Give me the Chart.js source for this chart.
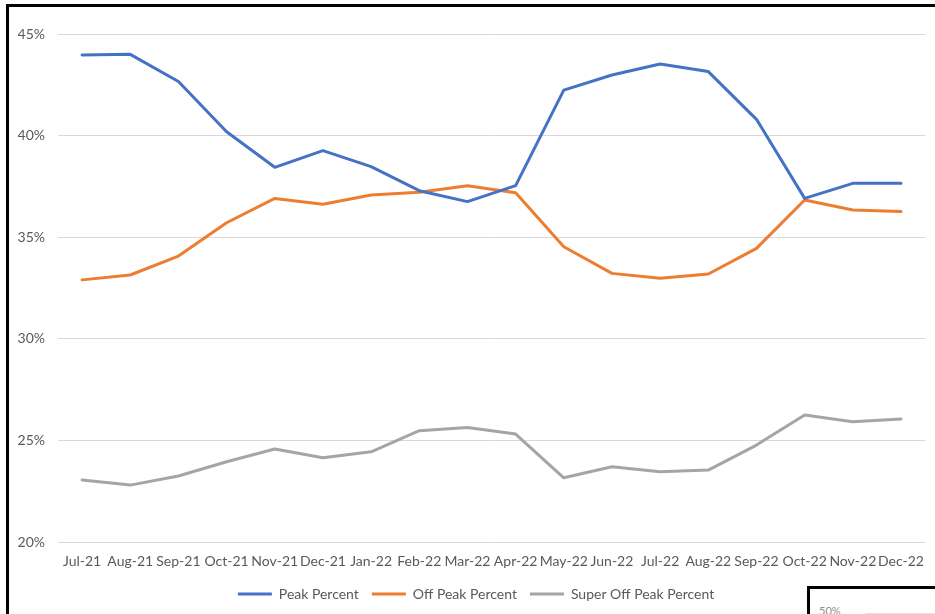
<!DOCTYPE html>
<html>
<head>
<meta charset="utf-8">
<script src="https://cdn.jsdelivr.net/npm/chart.js@4.4.1/dist/chart.umd.min.js"></script>
<style>
  html, body { margin: 0; padding: 0; background: #fff; }
  #wrap { position: relative; width: 935px; height: 614px; overflow: hidden; }
  #frame {
    position: absolute; left: 6px; top: 4px; width: 1000px; height: 700px;
    border-left: 3px solid #000; border-top: 3px solid #000; pointer-events: none;
  }
  #inset {
    position: absolute; left: 807px; top: 586px; width: 200px; height: 100px;
    border-left: 3px solid #000; border-top: 3px solid #000; background: #fff;
  }
  #inset span {
    position: absolute; left: 9px; top: 15px; font: 11px Lato, sans-serif; color: #8c8c8c;
  }
  #inset i {
    position: absolute; left: 55px; top: 24px; width: 200px; height: 1px; background: #e3e3e3;
  }
</style>
</head>
<body>
<div id="wrap">
  <canvas id="lineChart" width="935" height="614"></canvas>
  <div id="frame"></div>
  <div id="inset"><span>50%</span><i></i></div>
</div>
<script>
// month labels on the x axis
const months = ["Jul-21", "Aug-21", "Sep-21", "Oct-21", "Nov-21", "Dec-21", "Jan-22", "Feb-22", "Mar-22",
  "Apr-22", "May-22", "Jun-22", "Jul-22", "Aug-22", "Sep-22", "Oct-22", "Nov-22", "Dec-22"];

// values (percent)
const peakPercent = [43.97, 44.0, 42.66, 40.19, 38.44, 39.26, 38.47, 37.29, 36.75,
  37.54, 42.24, 42.98, 43.52, 43.15, 40.8, 36.91, 37.65, 37.65];
const offPeakPercent = [32.9, 33.14, 34.07, 35.71, 36.91, 36.62, 37.08, 37.21, 37.53,
  37.19, 34.53, 33.22, 32.98, 33.19, 34.45, 36.83, 36.34, 36.26];
const superOffPeakPercent = [23.05, 22.8, 23.25, 23.95, 24.58, 24.15, 24.44, 25.48, 25.63,
  25.31, 23.16, 23.7, 23.46, 23.54, 24.77, 26.25, 25.92, 26.05];

const yTicks = [20, 25, 30, 35, 40, 45];

const textColor = "#595959";
const font = { family: "Lato", size: 14 };

function series(label, data, color) {
  return {
    label: label,
    data: data,
    borderColor: color,
    backgroundColor: color,
    borderWidth: 3,
    pointRadius: 0,
    tension: 0,
    borderJoinStyle: "round",
    borderCapStyle: "round"
  };
}

new Chart(document.getElementById("lineChart"), {
  type: "line",
  data: {
    labels: months,
    datasets: [
      series("Peak Percent", peakPercent, "#4472C4"),
      series("Off Peak Percent", offPeakPercent, "#ED7D31"),
      series("Super Off Peak Percent", superOffPeakPercent, "#A5A5A5")
    ]
  },
  options: {
    responsive: false,
    animation: false,
    layout: { padding: { top: 34, left: 18, right: 1, bottom: 3 } },
    scales: {
      x: {
        offset: true,
        grid: { display: false, drawTicks: false },
        border: { display: false },
        ticks: { color: textColor, font: font, padding: 11, maxRotation: 0, autoSkip: false },
        afterFit: (scale) => { scale.height = 32; }
      },
      y: {
        min: yTicks[0],
        max: yTicks[yTicks.length - 1],
        afterBuildTicks: (scale) => { scale.ticks = yTicks.map(v => ({ value: v })); },
        grid: { color: "#d9d9d9", lineWidth: 1, drawTicks: false },
        border: { display: false },
        ticks: { color: textColor, font: font, padding: 13, callback: v => v + "%" },
        afterFit: (scale) => { scale.width = 40; }
      }
    },
    plugins: {
      legend: {
        position: "bottom",
        labels: {
          color: textColor, font: font, boxWidth: 34, boxHeight: 3, padding: 13,
          generateLabels: (chart) => Chart.defaults.plugins.legend.labels.generateLabels(chart)
            .map(item => ({ ...item, lineWidth: 0 }))
        }
      },
      tooltip: { enabled: false }
    }
  }
});
</script>
</body>
</html>
